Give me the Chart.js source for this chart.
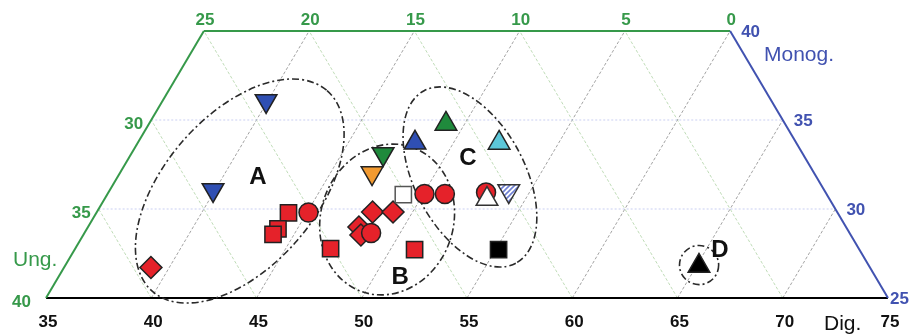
<!DOCTYPE html>
<html lang="en">
<head>
<meta charset="UTF-8">
<title>Ternary plot Dig. / Ung. / Monog.</title>
<script src="https://cdn.jsdelivr.net/npm/chart.js"></script>
<style>
  body { margin: 0; background: #fff; }
  .wrap { width: 920px; height: 335px; }
</style>
</head>
<body>
<div class="wrap"><canvas id="tern"></canvas></div>
<script>
// tick labels on the three sides
const digTicks = [35, 40, 45, 50, 55, 60, 65, 70, 75];
const ungLeftTicks = [40, 35, 30];
const ungTopTicks = [25, 20, 15, 10, 5, 0];
const monogTicks = [40, 35, 30, 25];

// samples as [Dig, Monog]  (Ung = 100 - Dig - Monog)
const redDiamonds = [[39.13, 26.71], [48.1, 29.83], [49.07, 29.83], [47.87, 28.99], [48.19, 28.54]];
const redSquares = [[44.13, 29.78], [44.08, 28.88], [44.0, 28.57], [47.13, 27.78], [51.15, 27.72]];
const redCircles = [[45.07, 29.8], [48.62, 28.65], [50.06, 30.84], [51.03, 30.84], [52.94, 30.93]];
const whiteSquare = [[49.07, 30.81]];
const blackSquare = [[55.14, 27.72]];
const blueDown = [[39.92, 36.07], [39.9, 31.07]];
const greenDown = [[46.97, 33.09]];
const orangeDown = [[46.98, 32.02]];
const hatchDown = [[53.98, 31.01]];
const blueUp = [[48.17, 33.72]];
const greenUp = [[49.11, 34.78]];
const cyanUp = [[52.17, 33.71]];
const whiteUp = [[53.17, 30.56]];
const blackUp = [[65.12, 26.8]];

// groups: label, label position [Dig, Monog], ellipse centre [Dig, Monog], radii (Dig units), rotation (deg)
const groupNames = ['A', 'B', 'C', 'D'];
const groupLabelPos = [[41.67, 31.8], [51.23, 26.18], [51.11, 32.87], [65.67, 27.7]];
const groupCentres = [[41.2, 31.01], [49.0, 29.41], [51.74, 31.8], [65.1, 26.85]];
const groupRadii = [[6.32, 3.6], [3.15, 3.63], [4.64, 2.62], [0.93, 0.93]];
const groupRot = [-49, 19, 62, 0];

const GREEN = '#36994a';
const BLUE = '#4152b0';
const FONT = '"Liberation Sans", Arial, sans-serif';

const toXY = ([d, m]) => ({ x: d + (m - 25) / 2, y: m });

function hatch() {
    const c = document.createElement('canvas');
    c.width = 5; c.height = 5;
    const g = c.getContext('2d');
    g.fillStyle = '#fff';
    g.fillRect(0, 0, 5, 5);
    g.strokeStyle = '#6f80d2';
    g.lineWidth = 1.6;
    g.beginPath();
    g.moveTo(0, 5); g.lineTo(5, 0);
    g.moveTo(-1, 1); g.lineTo(1, -1);
    g.moveTo(4, 6); g.lineTo(6, 4);
    g.stroke();
    return g.createPattern(c, 'repeat');
}

function marker(pts, style, radius, fill, extra) {
    return Object.assign({
        data: pts.map(toXY),
        pointStyle: style,
        pointRadius: radius,
        pointHoverRadius: radius,
        backgroundColor: fill,
        borderColor: '#222',
        borderWidth: 1.5,
        clip: false
    }, extra || {});
}

// listed bottom to top
const layers = [
    marker(redDiamonds, 'rectRot', 11, '#e5222a'),
    marker(redSquares, 'rect', 11.5, '#e5222a'),
    marker(redCircles, 'circle', 9.5, '#e5222a'),
    marker(whiteSquare, 'rect', 11.5, '#fff', { borderColor: '#555' }),
    marker(blackSquare, 'rect', 11.5, '#000'),
    marker(blueDown, 'triangle', 12.5, '#2f4fb3', { rotation: 180 }),
    marker(greenDown, 'triangle', 12.5, '#1f8a3c', { rotation: 180 }),
    marker(orangeDown, 'triangle', 12.5, '#f29a30', { rotation: 180 }),
    marker(hatchDown, 'triangle', 12.5, hatch(), { rotation: 180, borderColor: '#333' }),
    marker(blueUp, 'triangle', 12.5, '#2f4fb3'),
    marker(greenUp, 'triangle', 12.5, '#1f8a3c'),
    marker(cyanUp, 'triangle', 12.5, '#5cc7d9'),
    marker(whiteUp, 'triangle', 12.5, '#fff', { borderColor: '#333' }),
    marker(blackUp, 'triangle', 12.5, '#000')
];
layers.forEach((ds, i) => { ds.order = -i; });

const ternaryFrame = {
    id: 'ternaryFrame',
    beforeDatasetsDraw(chart) {
        const { ctx, scales: { x, y } } = chart;
        const P = (d, m) => { const q = toXY([d, m]); return [x.getPixelForValue(q.x), y.getPixelForValue(q.y)]; };
        const seg = (a, b, color, width, dash) => {
            ctx.save();
            ctx.strokeStyle = color;
            ctx.lineWidth = width;
            ctx.setLineDash(dash);
            ctx.beginPath();
            ctx.moveTo(a[0], a[1]);
            ctx.lineTo(b[0], b[1]);
            ctx.stroke();
            ctx.restore();
        };
        // constant Ung lines
        for (let u = 35; u >= 5; u -= 5) {
            const mTop = Math.min(40, 65 - u);
            seg(P(75 - u, 25), P(100 - u - mTop, mTop), '#b9d8b0', 0.9, [3, 2]);
        }
        // constant Dig lines
        digTicks.slice(1, -1).forEach(d => {
            const mTop = Math.min(40, 100 - d);
            seg(P(d, 25), P(d, mTop), '#8c8c8c', 0.8, [3, 2]);
        });
        // constant Monog lines
        [30, 35].forEach(m => seg(P(35, m), P(100 - m, m), '#c3caf0', 0.9, [2, 2]));

        // frame
        seg(P(35, 25), P(75, 25), '#000', 2, []);
        seg(P(35, 25), P(35, 40), GREEN, 2, []);
        seg(P(35, 40), P(60, 40), GREEN, 2, []);
        seg(P(60, 40), P(75, 25), BLUE, 2, []);

        // group ellipses
        const unit = x.getPixelForValue(36) - x.getPixelForValue(35);
        groupCentres.forEach((c, i) => {
            const p = P(c[0], c[1]);
            ctx.save();
            ctx.strokeStyle = '#2a2a2a';
            ctx.lineWidth = 1.6;
            ctx.setLineDash([7, 3, 2, 3]);
            ctx.beginPath();
            ctx.ellipse(p[0], p[1], groupRadii[i][0] * unit, groupRadii[i][1] * unit, groupRot[i] * Math.PI / 180, 0, Math.PI * 2);
            ctx.stroke();
            ctx.restore();
        });
    },
    afterDraw(chart) {
        const { ctx, scales: { x, y } } = chart;
        const P = (d, m) => { const q = toXY([d, m]); return [x.getPixelForValue(q.x), y.getPixelForValue(q.y)]; };
        const text = (s, px, py, color, font, align) => {
            ctx.save();
            ctx.fillStyle = color;
            ctx.font = font;
            ctx.textAlign = align || 'center';
            ctx.textBaseline = 'middle';
            ctx.fillText(s, px, py);
            ctx.restore();
        };
        const tickFont = 'bold 17px ' + FONT;

        digTicks.forEach(d => {
            const p = P(d, 25);
            text(String(d), p[0] + 2, p[1] + 24, '#111', tickFont);
        });
        ungTopTicks.forEach(u => {
            const p = P(60 - u, 40);
            text(String(u), p[0] + 1, p[1] - 11, GREEN, tickFont);
        });
        ungLeftTicks.forEach(u => {
            const p = P(35, 65 - u);
            const dx = u === 40 ? -15 : -8;
            text(String(u), p[0] + dx, p[1] + 4, GREEN, tickFont, 'right');
        });
        monogTicks.forEach(m => {
            const p = P(100 - m, m);
            const dx = m === 25 ? 2 : 11;
            text(String(m), p[0] + dx, p[1] + 1, BLUE, tickFont, 'left');
        });

        const axisFont = '21px ' + FONT;
        text('Ung.', 13, 260, GREEN, axisFont, 'left');
        text('Monog.', 764, 55, BLUE, axisFont, 'left');
        text('Dig.', 824, 324, '#111', axisFont, 'left');

        groupNames.forEach((g, i) => {
            const p = P(groupLabelPos[i][0], groupLabelPos[i][1]);
            text(g, p[0], p[1], '#111', 'bold 24px ' + FONT);
        });
    }
};

new Chart(document.getElementById('tern'), {
    type: 'scatter',
    data: { datasets: layers },
    options: {
        responsive: true,
        maintainAspectRatio: false,
        animation: false,
        layout: { padding: { left: 46, right: 32, top: 31, bottom: 37 } },
        plugins: { legend: { display: false }, tooltip: { enabled: false } },
        scales: {
            x: { type: 'linear', min: 35, max: 75, display: false },
            y: { type: 'linear', min: 25, max: 40, display: false }
        }
    },
    plugins: [ternaryFrame]
});
</script>
</body>
</html>
